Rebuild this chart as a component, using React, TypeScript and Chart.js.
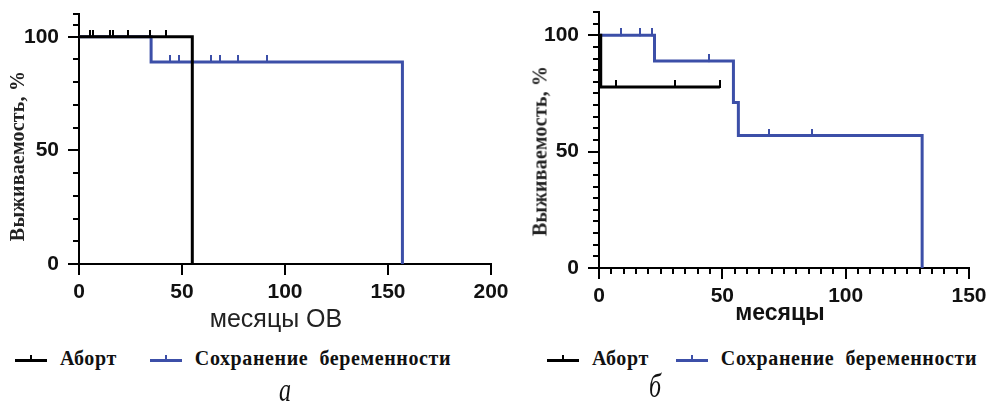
import React, { useEffect, useRef } from "react";
import { Chart, registerables } from "chart.js";

Chart.register(...registerables);

const BLACK = "#000000";
const BLUE = "#3c4fa8";

// ---- Panel а: overall survival (months) ----
const abortA_time = [0, 55];
const abortA_surv = [100, 0];
const abortA_censor = [5.3, 6.8, 15, 16.5, 23.8, 34.5, 42.2];

const keepA_time = [0, 35, 157];
const keepA_surv = [100, 88.9, 0];
const keepA_censor = [44.2, 48.5, 64, 68.4, 77.2, 91.3];

const xLabelsA = [0, 50, 100, 150, 200];
const xTicksA = [0, 50, 100, 150, 200];
const yLabelsA = [0, 50, 100];
const yTicksA = [0, 10, 20, 30, 40, 50, 60, 70, 80, 90, 100, 105, 110];

// ---- Panel б ----
const abortB_time = [0, 0.7, 49];
const abortB_surv = [100, 77.8, 77.8];
const abortB_censor = [7, 31, 49];

const keepB_time = [0, 22.5, 54.5, 56.5, 131];
const keepB_surv = [100, 88.9, 71.1, 56.9, 0];
const keepB_censor = [8.8, 16.6, 21.3, 44.5, 69, 86.5];

const xLabelsB = [0, 50, 100, 150];
const xTicksB = [
  0, 5, 10, 15, 20, 25, 30, 35, 40, 45, 50, 55, 60, 65, 70, 75, 80, 85, 90, 95,
  100, 105, 110, 115, 120, 125, 130, 135, 140, 145, 150,
];
const yLabelsB = [0, 50, 100];
const yTicksB = [
  0, 5, 10, 15, 20, 25, 30, 35, 40, 45, 50, 55, 60, 65, 70, 75, 80, 85, 90, 95,
  100, 105, 110,
];

const legendNames = ["Аборт", "Сохранение  беременности"];

type Curve = { times: number[]; surv: number[]; censor: number[]; color: string };

function survivalAt(times: number[], surv: number[], t: number) {
  let v = surv[0];
  for (let i = 0; i < times.length; i++) if (times[i] <= t) v = surv[i];
  return v;
}

// small vertical tick for censored observations, sitting mostly above the line
function censorMark(color: string) {
  const c = document.createElement("canvas");
  c.width = 2;
  c.height = 14;
  const g = c.getContext("2d")!;
  g.fillStyle = color;
  g.fillRect(0, 0, 2, 8);
  return c;
}

const axisTickPlugin = {
  id: "axisTicks",
  afterDraw(chart: any, _args: any, opts: any) {
    const { ctx } = chart;
    const xs = chart.scales.x;
    const ys = chart.scales.y;
    ctx.save();
    ctx.strokeStyle = "#000";
    ctx.lineWidth = 2;
    ctx.beginPath();
    for (const v of opts.xTicks) {
      const px = Math.round(xs.getPixelForValue(v));
      const len = opts.xMajor.includes(v) ? opts.majorLen : opts.minorLen;
      ctx.moveTo(px, ys.bottom);
      ctx.lineTo(px, ys.bottom + len);
    }
    for (const v of opts.yTicks) {
      const py = Math.round(ys.getPixelForValue(v));
      const len = opts.yMajor.includes(v) ? opts.majorLen : opts.minorLen;
      ctx.moveTo(xs.left, py);
      ctx.lineTo(xs.left - len, py);
    }
    ctx.stroke();
    ctx.restore();
  },
};

type PanelSpec = {
  curves: Curve[];
  xMax: number;
  yMax: number;
  xLabels: number[];
  xTicks: number[];
  yLabels: number[];
  yTicks: number[];
  canvasW: number;
  canvasH: number;
  xLabelPad: number;
  area: { left: number; top: number; right: number; bottom: number };
};

function KMPanel({ spec }: { spec: PanelSpec }) {
  const ref = useRef<HTMLCanvasElement | null>(null);

  useEffect(() => {
    if (!ref.current) return;
    const s = spec;
    const censorSets = s.curves.map((c) => ({
      type: "line" as const,
      data: c.censor.map((t) => ({ x: t, y: survivalAt(c.times, c.surv, t) })),
      showLine: false,
      pointStyle: censorMark(c.color),
      pointRadius: 4,
      pointHoverRadius: 4,
      borderColor: c.color,
      backgroundColor: c.color,
    }));
    // Kaplan–Meier steps: hold the value, then drop at the event time
    const lineSets = s.curves.map((c) => ({
      type: "line" as const,
      data: c.times.map((t, i) => ({ x: t, y: c.surv[i] })),
      stepped: "before" as const,
      borderColor: c.color,
      borderWidth: 3,
      pointRadius: 0,
      fill: false,
      borderCapStyle: "butt" as const,
      borderJoinStyle: "miter" as const,
    }));
    const tickFont = { family: "'Liberation Sans', Arial, sans-serif", size: 21, weight: "bold" as const };
    const chart = new Chart(ref.current, {
      type: "line",
      data: { datasets: [...censorSets, ...lineSets] as any },
      plugins: [axisTickPlugin],
      options: {
        animation: false,
        responsive: false,
        events: [],
        layout: {
          padding: {
            left: 0,
            top: s.area.top,
            right: s.canvasW - s.area.right,
            bottom: 0,
          },
        },
        plugins: {
          legend: { display: false },
          tooltip: { enabled: false },
          axisTicks: {
            xTicks: s.xTicks,
            xMajor: s.xLabels,
            yTicks: s.yTicks,
            yMajor: s.yLabels,
            majorLen: 11,
            minorLen: 6,
          },
        } as any,
        scales: {
          x: {
            type: "linear",
            min: 0,
            max: s.xMax,
            grid: { display: false },
            border: { display: true, color: "#000", width: 2 },
            ticks: { font: tickFont, color: "#111", padding: s.xLabelPad, maxRotation: 0 },
            afterBuildTicks: (sc: any) => {
              sc.ticks = s.xLabels.map((v) => ({ value: v }));
            },
            afterFit: (sc: any) => {
              sc.height = s.canvasH - s.area.bottom;
              sc.paddingLeft = 0;
              sc.paddingRight = 0;
            },
          },
          y: {
            type: "linear",
            min: 0,
            max: s.yMax,
            grid: { display: false },
            border: { display: true, color: "#000", width: 2 },
            ticks: { font: tickFont, color: "#111", padding: 12 },
            afterBuildTicks: (sc: any) => {
              sc.ticks = s.yLabels.map((v) => ({ value: v }));
            },
            afterFit: (sc: any) => {
              sc.width = s.area.left;
              sc.paddingTop = 0;
              sc.paddingBottom = 0;
            },
          },
        },
      },
    });
    return () => chart.destroy();
  }, [spec]);

  return (
    <canvas
      ref={ref}
      width={spec.canvasW}
      height={spec.canvasH}
      style={{ width: spec.canvasW, height: spec.canvasH, display: "block" }}
    />
  );
}

const panelA: PanelSpec = {
  curves: [
    { times: abortA_time, surv: abortA_surv, censor: abortA_censor, color: BLACK },
    { times: keepA_time, surv: keepA_surv, censor: keepA_censor, color: BLUE },
  ],
  xMax: 200,
  yMax: 110,
  xLabels: xLabelsA,
  xTicks: xTicksA,
  yLabels: yLabelsA,
  yTicks: yTicksA,
  canvasW: 520,
  canvasH: 340,
  xLabelPad: 8,
  area: { left: 79, top: 14, right: 491, bottom: 264 },
};

const panelB: PanelSpec = {
  curves: [
    { times: abortB_time, surv: abortB_surv, censor: abortB_censor, color: BLACK },
    { times: keepB_time, surv: keepB_surv, censor: keepB_censor, color: BLUE },
  ],
  xMax: 150,
  yMax: 110,
  xLabels: xLabelsB,
  xTicks: xTicksB,
  yLabels: yLabelsB,
  yTicks: yTicksB,
  canvasW: 476,
  canvasH: 340,
  xLabelPad: 8,
  area: { left: 79, top: 12, right: 449, bottom: 268 },
};

const serif = "'Liberation Serif', 'Times New Roman', serif";
const sans = "'Liberation Sans', Arial, sans-serif";

function LegendKey({ color }: { color: string }) {
  return (
    <span style={{ position: "relative", display: "inline-block", width: 32, height: 14 }}>
      <span style={{ position: "absolute", left: 0, top: 7, width: 32, height: 3, background: color }} />
      <span style={{ position: "absolute", left: 15, top: 3, width: 2, height: 5, background: color }} />
    </span>
  );
}

function Legend({ left, top, gap }: { left: number; top: number; gap: number }) {
  const text: React.CSSProperties = {
    fontFamily: serif,
    fontWeight: "bold",
    fontSize: 20,
    color: "#111",
    whiteSpace: "pre",
    marginLeft: 13,
    letterSpacing: 0.6,
  };
  return (
    <div style={{ position: "absolute", left, top, display: "flex", alignItems: "center" }}>
      <LegendKey color={BLACK} />
      <span style={text}>{legendNames[0]}</span>
      <span style={{ width: gap, display: "inline-block" }} />
      <LegendKey color={BLUE} />
      <span style={text}>{legendNames[1]}</span>
    </div>
  );
}

export default function App() {
  const yTitle: React.CSSProperties = {
    position: "absolute",
    transform: "translate(-50%, -50%) rotate(-90deg)",
    fontFamily: serif,
    fontWeight: "bold",
    fontSize: 20,
    letterSpacing: 0.2,
    color: "#222",
    whiteSpace: "nowrap",
  };
  const caption: React.CSSProperties = {
    position: "absolute",
    fontFamily: serif,
    fontStyle: "italic",
    fontSize: 24,
    color: "#111",
    transform: "translate(-50%, -50%) scaleY(1.4)",
  };
  return (
    <div
      style={{
        position: "fixed",
        left: 0,
        top: 0,
        width: 996,
        height: 406,
        background: "#fff",
        overflow: "hidden",
      }}
    >
      <div style={{ position: "absolute", left: 0, top: 0 }}>
        <KMPanel spec={panelA} />
      </div>
      <div style={{ position: "absolute", left: 520, top: 0 }}>
        <KMPanel spec={panelB} />
      </div>

      <div style={{ ...yTitle, left: 17, top: 156 }}>Выживаемость, %</div>
      <div style={{ ...yTitle, left: 540, top: 151 }}>Выживаемость, %</div>

      <div
        style={{
          position: "absolute",
          left: 276,
          top: 318,
          transform: "translate(-50%, -50%)",
          fontFamily: sans,
          fontSize: 25,
          color: "#222",
          whiteSpace: "nowrap",
        }}
      >
        месяцы ОВ
      </div>
      <div
        style={{
          position: "absolute",
          left: 780,
          top: 312,
          transform: "translate(-50%, -50%)",
          fontFamily: sans,
          fontWeight: "bold",
          fontSize: 23,
          color: "#111",
          whiteSpace: "nowrap",
        }}
      >
        месяцы
      </div>

      <Legend left={15} top={347} gap={33} />
      <Legend left={547} top={347} gap={27} />

      <div style={{ ...caption, left: 285, top: 390 }}>а</div>
      <div style={{ ...caption, left: 655, top: 386 }}>б</div>
    </div>
  );
}
